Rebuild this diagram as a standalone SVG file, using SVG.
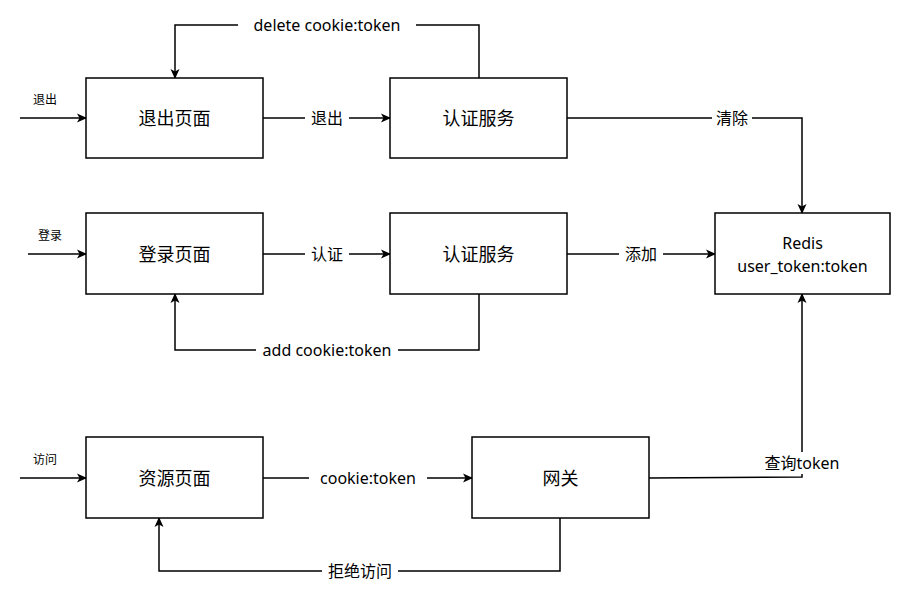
<svg xmlns="http://www.w3.org/2000/svg" width="910" height="593" viewBox="0 0 910 593">
<style>
.b{fill:#fff;stroke:#000;stroke-width:1.5}
.t{font-family:"Noto Sans","Noto Sans CJK SC",sans-serif;font-size:18px;text-anchor:middle;dominant-baseline:central;fill:#000}
.l{font-family:"Noto Sans","Noto Sans CJK SC",sans-serif;font-size:16px;text-anchor:middle;dominant-baseline:central;fill:#000}
.s{font-family:"Noto Sans","Noto Sans CJK SC",sans-serif;font-size:12px;text-anchor:middle;dominant-baseline:central;fill:#000}
.c{fill:none;stroke:#000;stroke-width:1.5;marker-end:url(#a)}
.bg{fill:#fff}
</style>
<defs><marker id="a" markerWidth="10" markerHeight="10" refX="9" refY="5" orient="auto" markerUnits="userSpaceOnUse"><path d="M0,0.5L10,5L0,9.5L2.5,5z" fill="#000"/></marker></defs>
<rect width="910" height="593" fill="#fff"/>
<g id="connectors">
<path class="c" d="M20,118H86"/>
<path class="c" d="M28,254H86"/>
<path class="c" d="M20,478H86"/>
<path class="c" d="M263,118H390"/>
<path class="c" d="M479,78V25H175V78"/>
<path class="c" d="M567,118H802V213"/>
<path class="c" d="M263,254H390"/>
<path class="c" d="M567,254H715"/>
<path class="c" d="M479,294V350H175V294"/>
<path class="c" d="M263,478H472"/>
<path class="c" d="M649,478L802,477V294"/>
<path class="c" d="M560,518V571H159V518"/>
<text class="s" x="45" y="99">退出</text>
<text class="s" x="50" y="235">登录</text>
<text class="s" x="45" y="459">访问</text>
<rect class="bg" x="305" y="107" width="44" height="22"/><text class="l" x="327" y="118">退出</text>
<rect class="bg" x="238" y="14" width="178" height="22"/><text class="l" x="327" y="25">delete cookie:token</text>
<rect class="bg" x="712" y="107" width="40" height="22"/><text class="l" x="732" y="118">清除</text>
<rect class="bg" x="305" y="243" width="44" height="22"/><text class="l" x="327" y="254">认证</text>
<rect class="bg" x="619" y="243" width="44" height="22"/><text class="l" x="641" y="254">添加</text>
<rect class="bg" x="256" y="339" width="142" height="22"/><text class="l" x="327" y="350">add cookie:token</text>
<rect class="bg" x="309" y="467" width="118" height="22"/><text class="l" x="368" y="478">cookie:token</text>
<rect class="bg" x="757" y="452" width="90" height="22"/><text class="l" x="802" y="463">查询token</text>
<rect class="bg" x="322" y="560" width="76" height="22"/><text class="l" x="360" y="571">拒绝访问</text>
</g>
<g id="logout-page"><rect class="b" x="86" y="78" width="177" height="80"/><text class="t" x="174.5" y="118">退出页面</text></g>
<g id="auth1"><rect class="b" x="390" y="78" width="177" height="80"/><text class="t" x="478.5" y="118">认证服务</text></g>
<g id="login-page"><rect class="b" x="86" y="213" width="177" height="81"/><text class="t" x="174.5" y="254">登录页面</text></g>
<g id="auth2"><rect class="b" x="390" y="213" width="177" height="81"/><text class="t" x="478.5" y="254">认证服务</text></g>
<g id="redis"><rect class="b" x="715" y="213" width="175" height="81"/><text class="l" x="802.5" y="243">Redis</text><text class="l" x="802.5" y="266">user_token:token</text></g>
<g id="resource-page"><rect class="b" x="86" y="437" width="177" height="81"/><text class="t" x="174.5" y="478">资源页面</text></g>
<g id="gateway"><rect class="b" x="472" y="437" width="177" height="81"/><text class="t" x="560.5" y="478">网关</text></g>
</svg>
